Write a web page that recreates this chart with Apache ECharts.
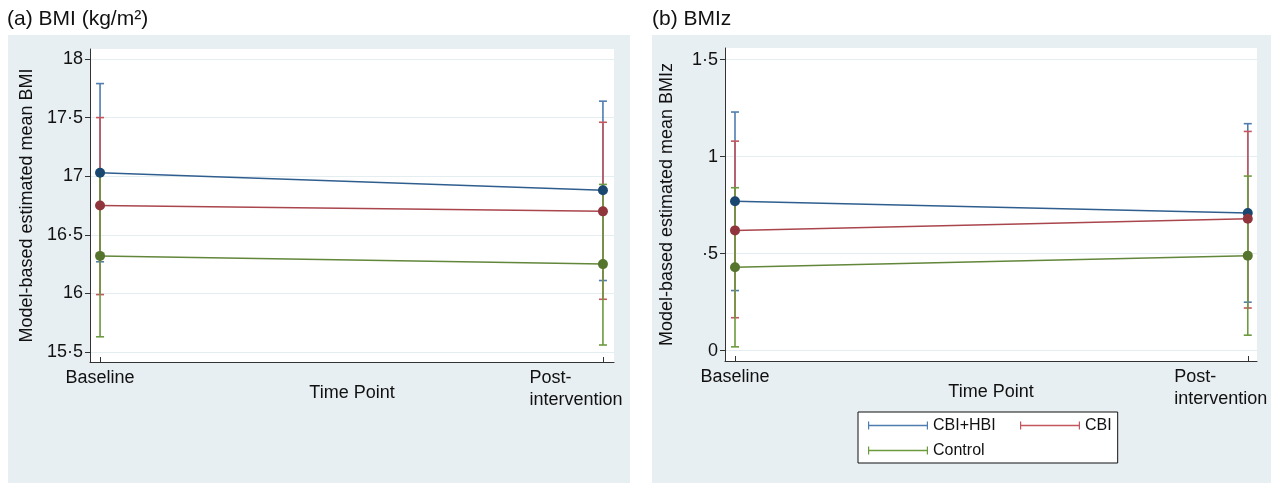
<!DOCTYPE html>
<html>
<head>
<meta charset="utf-8">
<script src="https://cdn.jsdelivr.net/npm/echarts@6/dist/echarts.min.js"></script>
<style>
  html, body { margin: 0; padding: 0; background: #fff; }
  #chart { width: 1271px; height: 483px; }
</style>
</head>
<body>
<div id="chart"></div>
<script>
// data
const timePoints = ['Baseline', 'Post-\nintervention']
const groups = ['CBI+HBI', 'CBI', 'Control']

// (a) BMI, rows follow groups, columns follow timePoints
const bmiMean = [[17.03, 16.88], [16.75, 16.70], [16.32, 16.25]]
const bmiLow = [[16.27, 16.11], [15.99, 15.95], [15.63, 15.56]]
const bmiHigh = [[17.79, 17.64], [17.50, 17.46], [17.02, 16.93]]

// (b) BMIz
const bmizMean = [[0.77, 0.71], [0.62, 0.68], [0.43, 0.49]]
const bmizLow = [[0.31, 0.25], [0.17, 0.22], [0.02, 0.08]]
const bmizHigh = [[1.23, 1.17], [1.08, 1.13], [0.84, 0.90]]

const bmiTicks = [15.5, 16, 16.5, 17, 17.5, 18]
const bmizTicks = [0, 0.5, 1, 1.5]

const markerColors = ['#1a476f', '#90353b', '#55752f']
const lineColors = ['#2f5e8e', '#a9454c', '#62863a']
const barColors = ['#4f7db0', '#c4565d', '#6c9a3e']
const font = '"Liberation Sans", Arial, Helvetica, sans-serif'
const panelBg = '#e8eff2'

const chart = echarts.init(document.getElementById('chart'))

function dotFormat(v) {
  // Stata style decimal: 17·5, ·5
  let s = String(v)
  if (s.startsWith('0.')) s = s.slice(1)
  return s.replace('.', '\u00b7')
}

function errorBars(name, idx, low, high, color) {
  return {
    type: 'custom',
    name: name,
    xAxisIndex: idx,
    yAxisIndex: idx,
    z: 2,
    silent: true,
    data: low.map((l, i) => [i, l, high[i]]),
    encode: { x: 0, y: [1, 2] },
    renderItem: function (params, api) {
      const x = api.value(0)
      const lo = api.coord([x, api.value(1)])
      const hi = api.coord([x, api.value(2)])
      const w = 4
      const style = { stroke: color, lineWidth: 1.6, fill: null }
      return {
        type: 'group',
        children: [
          { type: 'line', shape: { x1: lo[0], y1: lo[1], x2: hi[0], y2: hi[1] }, style: style },
          { type: 'line', shape: { x1: lo[0] - w, y1: lo[1], x2: lo[0] + w, y2: lo[1] }, style: style },
          { type: 'line', shape: { x1: hi[0] - w, y1: hi[1], x2: hi[0] + w, y2: hi[1] }, style: style }
        ]
      }
    }
  }
}

function meanLine(name, idx, mean, i) {
  return {
    type: 'line',
    name: name,
    xAxisIndex: idx,
    yAxisIndex: idx,
    z: 3,
    data: mean.map((v, j) => [j, v]),
    symbol: 'circle',
    symbolSize: 10,
    itemStyle: { color: markerColors[i] },
    lineStyle: { color: lineColors[i], width: 1.5 },
    emphasis: { disabled: true }
  }
}

function xAxisDef(idx, min, max) {
  return {
    type: 'value',
    gridIndex: idx,
    min: min,
    max: max,
    name: 'Time Point',
    nameLocation: 'middle',
    nameGap: 22,
    nameMoveOverlap: false,
    nameTextStyle: { fontFamily: font, fontSize: 18, color: '#111' },
    axisLine: { show: true, onZero: false, lineStyle: { color: '#333', width: 1 } },
    axisTick: { show: true, inside: true, length: 5, customValues: [0, 1], lineStyle: { color: '#333' } },
    splitLine: { show: false },
    axisLabel: {
      customValues: [0, 1],
      margin: 5,
      fontFamily: font,
      fontSize: 18,
      color: '#111',
      lineHeight: 22,
      formatter: function (v) {
        const t = timePoints[Math.round(v)]
        if (t.indexOf('\n') < 0) return t
        return t.split('\n').map(s => '{p|' + s + '}').join('\n') + '{s|}'
      },
      rich: {
        p: { fontFamily: font, fontSize: 18, color: '#111', align: 'left', lineHeight: 22 },
        s: { width: 54 }
      }
    }
  }
}

function yAxisDef(idx, min, max, ticks, name, gap) {
  return {
    type: 'value',
    gridIndex: idx,
    min: min,
    max: max,
    name: name,
    nameLocation: 'middle',
    nameGap: gap,
    nameMoveOverlap: false,
    nameTextStyle: { fontFamily: font, fontSize: 18, color: '#111' },
    axisLine: { show: true, onZero: false, lineStyle: { color: '#333', width: 1 } },
    axisTick: { show: true, length: 5, customValues: ticks, lineStyle: { color: '#333' } },
    splitLine: { show: true, lineStyle: { color: '#e4edf0', width: 1 } },
    axisLabel: {
      customValues: ticks,
      margin: 7,
      fontFamily: font,
      fontSize: 18,
      color: '#111',
      formatter: dotFormat
    }
  }
}

const series = []
groups.forEach((g, i) => {
  series.push(errorBars(g, 0, bmiLow[i], bmiHigh[i], barColors[i]))
  series.push(errorBars(g, 1, bmizLow[i], bmizHigh[i], barColors[i]))
})
groups.forEach((g, i) => {
  series.push(meanLine(g, 0, bmiMean[i], i))
  series.push(meanLine(g, 1, bmizMean[i], i))
})

const legendIcon = 'path://M0,0h1.2v8h-1.2zM0,3.25h60v1.5h-60zM58.8,0h1.2v8h-1.2z'

const option = {
  backgroundColor: '#fff',
  animation: false,
  title: [
    { text: '(a) BMI (kg/m\u00b2)', left: 7, top: 9, padding: 0,
      textStyle: { fontFamily: font, fontSize: 21, fontWeight: 'normal', color: '#111' } },
    { text: '(b) BMIz', left: 652, top: 9, padding: 0,
      textStyle: { fontFamily: font, fontSize: 21, fontWeight: 'normal', color: '#111' } }
  ],
  graphic: [
    { type: 'rect', z: -10, shape: { x: 8, y: 35, width: 622, height: 448 }, style: { fill: panelBg } },
    { type: 'rect', z: -10, shape: { x: 652, y: 35, width: 619, height: 448 }, style: { fill: panelBg } }
  ],
  grid: [
    { left: 90, top: 49, width: 524, height: 313, show: true, backgroundColor: '#fff', borderWidth: 0,
      outerBoundsMode: 'none', containLabel: false },
    { left: 725, top: 48, width: 532, height: 313, show: true, backgroundColor: '#fff', borderWidth: 0,
      outerBoundsMode: 'none', containLabel: false }
  ],
  xAxis: [
    xAxisDef(0, -0.02, 1.022),
    xAxisDef(1, -0.0195, 1.018)
  ],
  yAxis: [
    yAxisDef(0, 15.415, 18.085, bmiTicks, 'Model-based estimated mean BMI', 54),
    yAxisDef(1, -0.053, 1.56, bmizTicks, 'Model-based estimated mean BMIz', 49)
  ],
  legend: {
    left: 858,
    top: 412,
    width: 250,
    orient: 'horizontal',
    backgroundColor: '#fff',
    borderColor: '#111',
    borderWidth: 1,
    borderRadius: 0,
    padding: [5, 6, 4, 10],
    itemGap: 8,
    itemWidth: 60,
    itemHeight: 8,
    selectedMode: false,
    textStyle: {
      fontFamily: font,
      fontSize: 16,
      color: '#111',
      lineHeight: 17,
      rich: { w: { fontFamily: font, fontSize: 16, color: '#111', width: 79, lineHeight: 17 } }
    },
    formatter: function (n) {
      return n === groups[0] ? '{w|' + n + '}' : n
    },
    data: groups.map((g, i) => ({ name: g, icon: legendIcon, itemStyle: { color: barColors[i] } }))
  },
  series: series
}

chart.setOption(option)
</script>
</body>
</html>
